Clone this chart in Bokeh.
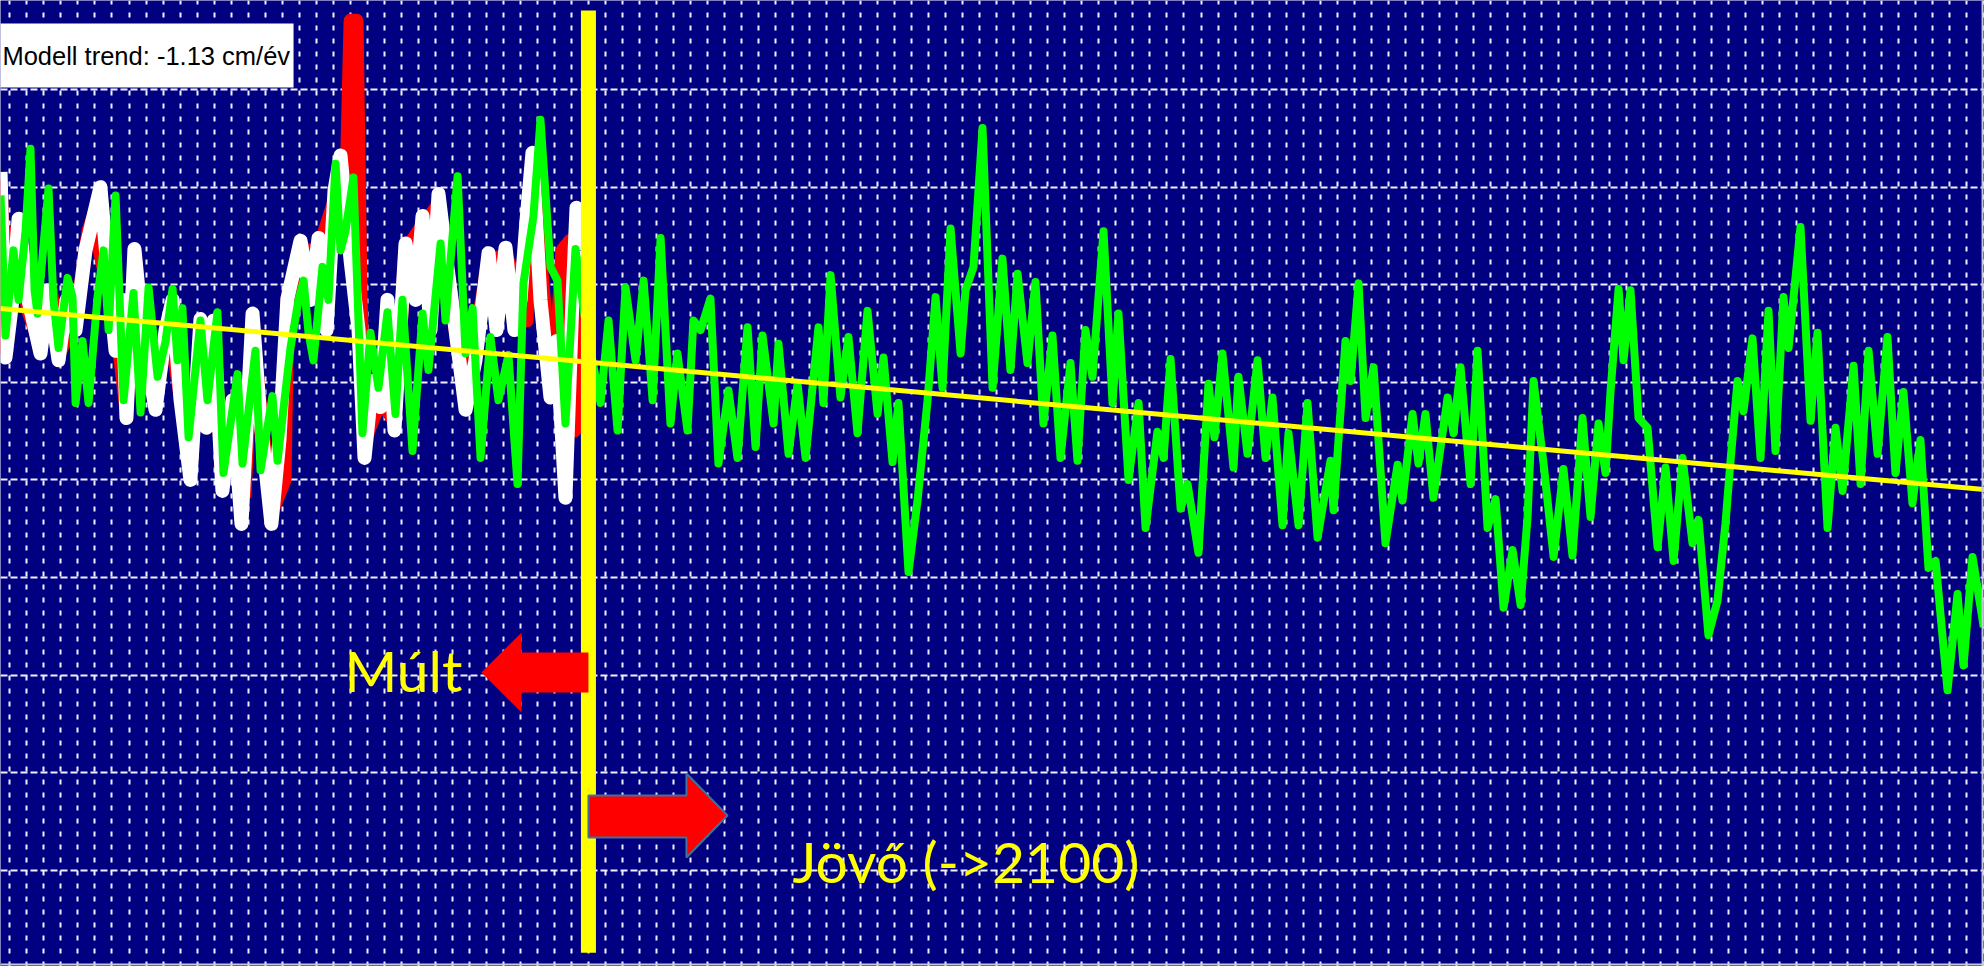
from bokeh.plotting import figure
from bokeh.models import Range1d, FixedTicker, SingleIntervalTicker, Grid, Label, Span
from bokeh.embed import file_html
from bokeh.resources import INLINE

# ---------------------------------------------------------------------------
# Data: water level (cm) against time (year)
# ---------------------------------------------------------------------------

# model run, past and future (green)
model_years = [
    1983.45, 1983.74, 1984.21, 1984.51, 1984.92, 1985.21, 1985.45, 1985.62, 1986.27, 1986.56,
    1986.86, 1987.39, 1987.68, 1987.86, 1988.27, 1988.62, 1989.15, 1989.50, 1989.80, 1990.21,
    1990.68, 1991.26, 1991.68, 1992.15, 1992.68, 1993.15, 1993.56, 1993.85, 1994.14, 1994.50,
    1995.20, 1995.61, 1996.20, 1996.55, 1997.38, 1997.67, 1998.43, 1998.73, 1999.43, 1999.73,
    2000.49, 2000.96, 2001.26, 2001.55, 2001.84, 2002.37, 2002.72, 2003.14, 2003.43, 2003.72,
    2004.19, 2004.72, 2005.19, 2005.66, 2006.19, 2006.66, 2007.07, 2007.66, 2008.25, 2008.60,
    2009.31, 2009.60, 2010.31, 2010.78, 2011.19, 2011.66, 2012.24, 2012.71, 2013.30, 2013.83,
    2014.18, 2014.77, 2015.18, 2015.77, 2016.18, 2016.65, 2017.24, 2017.89, 2018.71, 2019.18,
    2019.71, 2020.18, 2020.77, 2021.24, 2021.77, 2022.24, 2022.82, 2023.23, 2023.82, 2024.17,
    2024.59, 2025.17, 2025.64, 2026.23, 2026.76, 2027.35, 2027.82, 2028.23, 2028.88, 2029.17,
    2029.76, 2030.29, 2030.76, 2031.52, 2031.81, 2032.23, 2032.81, 2033.28, 2033.81, 2034.40,
    2034.99, 2035.34, 2035.87, 2036.22, 2036.81, 2037.34, 2037.93, 2038.40, 2038.81, 2039.28,
    2039.87, 2040.16, 2040.63, 2041.16, 2041.75, 2042.33, 2042.80, 2043.22, 2043.80, 2044.27,
    2044.74, 2045.27, 2045.74, 2046.33, 2046.74, 2047.21, 2047.62, 2048.27, 2048.80, 2049.15,
    2049.74, 2050.33, 2050.74, 2051.44, 2051.80, 2052.21, 2052.80, 2053.21, 2053.85, 2054.44,
    2054.79, 2055.26, 2055.91, 2056.20, 2056.73, 2057.32, 2057.79, 2058.20, 2058.79, 2059.14,
    2059.73, 2060.26, 2060.85, 2061.61, 2061.79, 2062.49, 2062.79, 2063.26, 2063.67, 2064.14,
    2064.84, 2065.55, 2065.84, 2066.43, 2066.78, 2067.19, 2067.66, 2068.49, 2068.84, 2069.25,
    2069.84, 2070.25, 2070.84, 2071.31, 2071.78, 2072.31, 2072.78, 2073.19, 2073.54, 2074.13,
    2074.72, 2075.30, 2075.83, 2076.42, 2076.89, 2077.36, 2077.77, 2078.07, 2078.54, 2078.83,
    2079.24, 2079.71, 2080.24, 2080.83, 2081.30, 2081.77, 2082.30, 2082.88, 2083.24, 2083.82,
    2084.35, 2084.82, 2085.12, 2085.53, 2085.88, 2086.41, 2086.88, 2087.35, 2087.76, 2088.23,
    2088.53, 2089.23, 2089.82, 2090.23, 2090.82, 2091.29, 2091.70, 2092.35, 2092.76, 2093.23,
    2093.76, 2094.34, 2094.81, 2095.28, 2095.81, 2096.28, 2096.75, 2097.17, 2097.87, 2098.46,
    2098.81, 2099.34, 2100.00,
]
model_level = [
    207, 105, 167, 131, 181, 241, 138, 121, 212, 131,
    96, 147, 133, 56, 101, 56, 133, 167, 109, 207,
    58, 136, 49, 140, 75, 101, 139, 87, 125, 31,
    116, 58, 122, 5, 77, 12, 94, 7, 61, 14,
    96, 131, 145, 107, 87, 155, 131, 230, 167, 181,
    220, 34, 107, 67, 122, 48, 131, 21, 121, 80,
    172, 116, 221, 92, 125, 16, 104, 58, 91, -3,
    143, 192, 262, 155, 145, 41, 168, 109, 56, 116,
    36, 140, 87, 145, 58, 176, 41, 92, 36, 116,
    109, 132, 12, 65, 16, 111, 24, 105, 41, 99,
    19, 70, 16, 111, 56, 149, 60, 104, 34, 123,
    48, 89, 13, 56, -67, -15, 58, 133, 67, 183,
    92, 138, 155, 256, 67, 161, 80, 150, 85, 144,
    41, 105, 16, 85, 14, 109, 75, 181, 56, 121,
    0, 56, -35, 35, 16, 88, -21, -3, -53, 70,
    31, 92, 9, 75, 19, 87, 16, 60, -33, 34,
    -33, 56, -42, 14, -22, 101, 72, 143, 45, 82,
    -46, 11, -15, 48, 12, 48, -13, 60, 34, 82,
    -3, 94, -35, -14, -93, -51, -91, -27, 72, 12,
    -56, 8, -55, 45, -27, 41, 5, 65, 139, 87,
    138, 45, 38, -49, 9, -59, 16, -46, -29, -113,
    -88, -32, 14, 72, 50, 103, 16, 123, 21, 133,
    96, 184, 43, 107, -35, 38, -8, 83, -3, 94,
    19, 104, 5, 64, -17, 29, -64, -59, -153, -83,
    -135, -56, -107,
]

# measured series, past only (white)
hist_years = [
    1983.45, 1983.74, 1984.15, 1984.51, 1985.09, 1985.80, 1986.27, 1986.86, 1987.33, 1987.86,
    1988.44, 1989.32, 1989.80, 1990.21, 1990.62, 1990.85, 1991.32, 1991.79, 1992.56, 1993.15,
    1993.56, 1994.03, 1994.61, 1995.20, 1995.55, 1995.97, 1996.49, 1997.08, 1997.61, 1998.26,
    1998.73, 1999.37, 1999.84, 2000.31, 2001.08, 2001.67, 2002.14, 2002.61, 2003.08, 2003.43,
    2004.02, 2004.49, 2004.84, 2005.31, 2005.78, 2006.19, 2006.60, 2007.25, 2007.84, 2008.25,
    2008.72, 2009.19, 2009.66, 2010.19, 2010.78, 2011.36, 2012.13, 2012.60, 2013.13, 2013.65,
    2014.01, 2014.36, 2014.71, 2015.18, 2015.77, 2016.12, 2016.65, 2017.06, 2017.30, 2017.59,
]
hist_level = [
    224, 89, 131, 190, 131, 92, 138, 87, 131, 109,
    167, 213, 145, 94, 131, 45, 168, 109, 51, 109,
    131, 58, 0, 117, 38, 116, -8, 58, -32, 121,
    43, -32, 29, 132, 174, 131, 176, 109, 211, 236,
    160, 109, 16, 72, 53, 131, 36, 172, 131, 192,
    109, 208, 160, 109, 51, 87, 165, 109, 169, 109,
    131, 189, 238, 131, 60, 101, -13, 131, 198, 167,
]

# second measured series, past only (red)
hist2_years = [
    1983.45, 1983.80, 1984.27, 1985.09, 1985.80, 1986.39, 1986.97, 1987.86, 1988.62, 1989.09,
    1989.32, 1989.80, 1990.38, 1990.85, 1991.32, 1991.79, 1992.56, 1993.32, 1994.03, 1994.61,
    1995.20, 1995.97, 1996.49, 1997.08, 1997.79, 1998.26, 1998.84, 1999.43, 2000.14, 2000.31,
    2001.08, 2002.14, 2003.08, 2003.72, 2004.02, 2004.37, 2004.60, 2004.84, 2005.78, 2006.60,
    2007.25, 2008.25, 2009.19, 2010.19, 2010.78, 2012.13, 2013.13, 2014.01, 2014.36, 2014.71,
    2015.48, 2016.12, 2016.47, 2016.94, 2017.18, 2017.53,
]
hist2_level = [
    218, 94, 181, 123, 98, 138, 94, 116, 181, 198,
    165, 138, 101, 51, 160, 109, 58, 116, 61, 7,
    109, 109, 0, 51, -10, 109, 36, -22, 0, 131,
    167, 167, 203, 181, 334, 334, 138, 29, 58, 43,
    167, 185, 200, 109, 58, 160, 163, 138, 116, 229,
    116, 94, 167, 174, 36, 131,
]

# linear model trend
trend_slope = -1.13          # cm / év
present_year = 2018.0
trend_level_present = 85.7   # cm at present_year

# view window and grid
year_start, year_end = 1983.448, 2100.044
level_min, level_max = -354.0, 348.8
level_grid = [-284, -213, -142, -71, 0, 71, 142, 213, 284]

NAVY = "#000080"
GRID = "#F0F0FF"
YELLOW = "#FFFF00"

p = figure(
    width=1984, height=966,
    x_range=Range1d(year_start, year_end),
    y_range=Range1d(level_min, level_max),
    x_axis_location=None, y_axis_location=None,
    toolbar_location=None, output_backend="svg",
    min_border=0, background_fill_color=NAVY, border_fill_color=NAVY,
)
p.outline_line_color = None

# replace the default grids with dashed ones: one vertical line per year,
# a horizontal one every 71 cm
p.center = [r for r in p.center if not isinstance(r, Grid)]
p.add_layout(Grid(dimension=0, ticker=SingleIntervalTicker(interval=1, num_minor_ticks=0),
                  grid_line_color=GRID, grid_line_width=2, grid_line_dash="5 8"))
p.add_layout(Grid(dimension=1, ticker=FixedTicker(ticks=level_grid),
                  grid_line_color=GRID, grid_line_width=2, grid_line_dash="7 3"))

# frame edges at the bottom and right
p.add_layout(Span(location=-352.5, dimension="width", line_color="#C8C8DC", line_width=2))
p.add_layout(Span(location=2099.93, dimension="height", line_color="#C8C8DC", line_width=2))

# past series
p.line(hist2_years, hist2_level, line_color="#FF0000", line_width=14, line_join="round")
p.line(hist_years, hist_level, line_color="#FFFFFF", line_width=14, line_join="round")

# model
p.line(model_years, model_level, line_color="#00FF00", line_width=8, line_join="round")

# trend line across the whole period
trend_x = [year_start, year_end]
trend_y = [trend_level_present + trend_slope * (x - present_year) for x in trend_x]
p.line(trend_x, trend_y, line_color=YELLOW, line_width=5)

# present-day divider
p.line([present_year, present_year], [341.5, -344.0], line_color=YELLOW, line_width=15,
       line_cap="butt")

# trend caption box
p.quad(left=[1982.0], right=[2000.67], bottom=[285.5], top=[332.1],
       fill_color="white", line_color=None)
p.add_layout(Label(x=1983.56, y=308.5, text=f"Modell trend: {trend_slope:.2f} cm/év",
                   text_font="Liberation Sans", text_font_size="25.5px",
                   text_color="black", text_baseline="alphabetic"))

# past / future arrows
left_arrow_x = [2018.00, 2014.07, 2014.07, 2011.71, 2014.07, 2014.07, 2018.00]
left_arrow_y = [-125.5, -125.5, -111.0, -140.1, -169.2, -154.6, -154.6]
right_arrow_x = [2018.00, 2023.76, 2023.76, 2026.17, 2023.76, 2023.76, 2018.00]
right_arrow_y = [-229.6, -229.6, -213.6, -244.1, -274.7, -260.1, -260.1]
p.patch(left_arrow_x, left_arrow_y, fill_color="#FF0000", line_color=None)
p.patch(right_arrow_x, right_arrow_y, fill_color="#FF0000", line_color="#41719C", line_width=2)

p.add_layout(Label(x=2003.66, y=-138.6, text="Múlt", text_font="Lato",
                   text_font_size="57px", text_color=YELLOW, text_baseline="alphabetic"))
p.add_layout(Label(x=2029.99, y=-277.6, text="Jövő (->2100)", text_font="Lato",
                   text_font_size="57px", text_color=YELLOW, text_baseline="alphabetic"))

open("out.html", "w").write(file_html(p, INLINE))
